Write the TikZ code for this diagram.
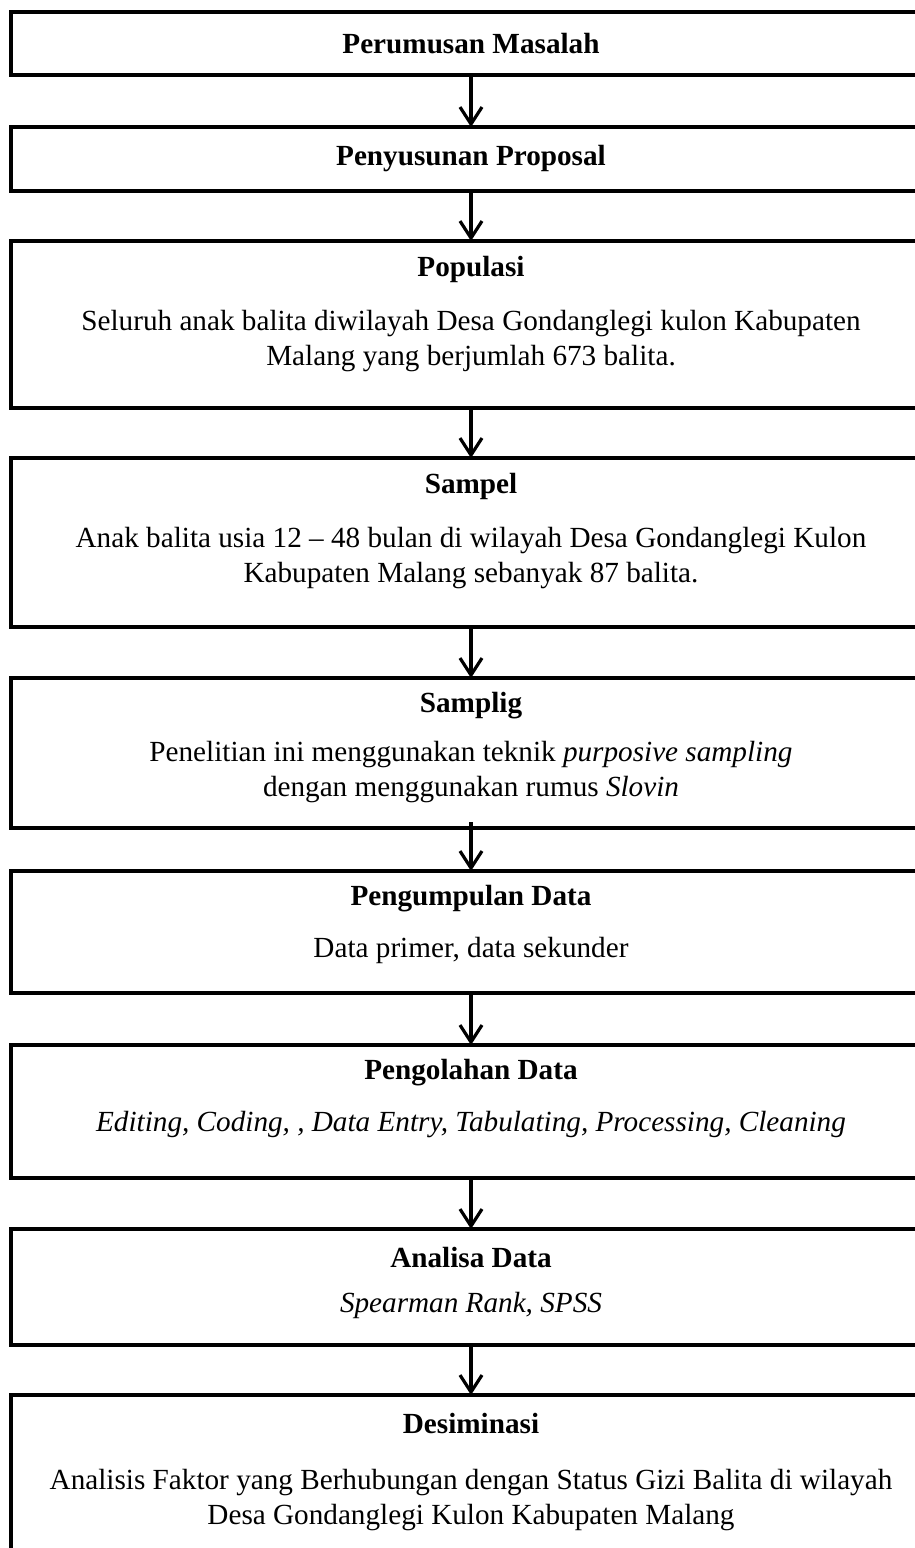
\documentclass[tikz,border=0pt]{standalone}
\usepackage{fontspec}
\setmainfont{Liberation Serif}
\usetikzlibrary{positioning}
\usetikzlibrary{arrows.meta}

\begin{document}
\begin{tikzpicture}[x=0.5pt,y=-0.5pt,
		block/.style={rectangle, draw=black, line width=2pt, minimum width=460pt, outer sep=0pt, inner sep=0pt},
		head/.style={font=\fontsize{14.6}{17.4}\selectfont\bfseries, inner sep=0pt},
		desc/.style={font=\fontsize{14.6}{17.4}\selectfont, align=center, inner sep=0pt},
		arrow/.style={-{Straight Barb[length=8.5pt,width=11pt]}, line width=1.6pt},
		node distance=25pt
	]
		\useasboundingbox (0,0) rectangle (915,1548);
		\clip (0,0) rectangle (915,1548);

		\node[block, minimum height=31.5pt] (b1) at (471,43.5) {};
		\node[block, minimum height=32pt, below=26pt of b1] (b2) {};
		\node[block, minimum height=83.5pt, below=25pt of b2] (b3) {};
		\node[block, minimum height=84.5pt, below=25pt of b3] (b4) {};
		\node[block, minimum height=75pt, below=25.5pt of b4] (b5) {};
		\node[block, minimum height=61pt, below=21.5pt of b5] (b6) {};
		\node[block, minimum height=66.5pt, below=26pt of b6] (b7) {};
		\node[block, minimum height=58pt, below=25.5pt of b7] (b8) {};
		\node[block, minimum height=90pt, below=25pt of b8] (b9) {};

		\node[head] (h1) at (b1) {Perumusan Masalah};
		\node[head] (h2) at (b2) {Penyusunan Proposal};

		\node[head] (h3) at ([yshift=-14pt]b3.north) {Populasi};
		\node[desc] (d3) at ([yshift=-50pt]b3.north) {Seluruh anak balita diwilayah Desa Gondanglegi kulon Kabupaten\\ Malang yang berjumlah 673 balita.};

		\node[head] (h4) at ([yshift=-14pt]b4.north) {Sampel};
		\node[desc] (d4) at ([yshift=-50pt]b4.north) {Anak balita usia 12 -- 48 bulan di wilayah Desa Gondanglegi Kulon\\ Kabupaten Malang sebanyak 87 balita.};

		\node[head] (h5) at ([yshift=-14pt]b5.north) {Samplig};
		\node[desc] (d5) at ([yshift=-47pt]b5.north) {Penelitian ini menggunakan teknik \textit{purposive sampling}\\ dengan menggunakan rumus \textit{Slovin}};

		\node[head] (h6) at ([yshift=-14pt]b6.north) {Pengumpulan Data};
		\node[desc] (d6) at ([yshift=-39.5pt]b6.north) {Data primer, data sekunder};

		\node[head] (h7) at ([yshift=-14pt]b7.north) {Pengolahan Data};
		\node[desc] (d7) at ([yshift=-40pt]b7.north) {\textit{Editing, Coding, , Data Entry, Tabulating, Processing, Cleaning}};

		\node[head] (h8) at ([yshift=-14pt]b8.north) {Analisa Data};
		\node[desc] (d8) at ([yshift=-38pt]b8.north) {\textit{Spearman Rank, SPSS}};

		\node[head] (h9) at ([yshift=-14pt]b9.north) {Desiminasi};
		\node[desc] (d9) at ([yshift=-52.5pt]b9.north) {Analisis Faktor yang Berhubungan dengan Status Gizi Balita di wilayah\\ Desa Gondanglegi Kulon Kabupaten Malang};

		\draw[arrow] (b1) -- (b2);
		\draw[arrow] (b2) -- (b3);
		\draw[arrow] (b3) -- (b4);
		\draw[arrow] (b4) -- (b5);
		\draw[arrow] ([yshift=3pt]b5.south) -- (b6.north);
		\draw[arrow] (b6) -- (b7);
		\draw[arrow] (b7) -- (b8);
		\draw[arrow] (b8) -- (b9);
	\end{tikzpicture}
\end{document}
